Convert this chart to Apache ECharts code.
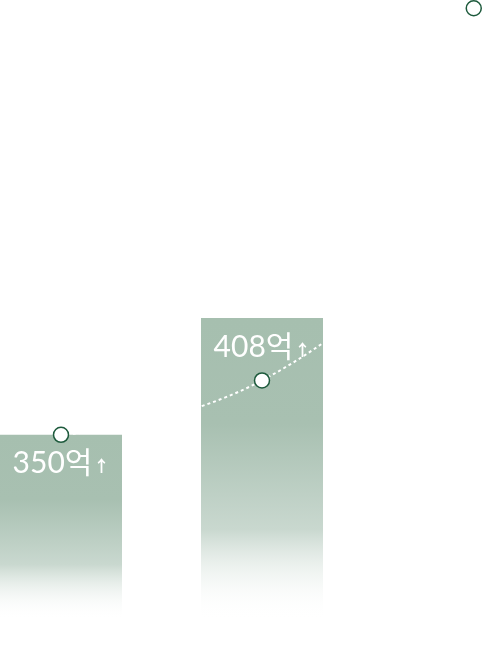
<!DOCTYPE html>
<html>
<head>
<meta charset="utf-8">
<script src="https://cdn.jsdelivr.net/npm/echarts@6/dist/echarts.min.js"></script>
<style>
  html, body { margin: 0; padding: 0; background: #fff; }
  #main { width: 494px; height: 650px; }
</style>
</head>
<body>
<div id="main"></div>
<script>
// 매출 막대 + 추이선
var categories = ['2021', '2022', '2023'];
var barValues = [350, 408, null];
var lineValues = [350, 377, 456];
var lineName = '추이';

var myChart = echarts.init(document.getElementById('main'));

var barColor = new echarts.graphic.LinearGradient(0, 0, 0, 1, [
    {offset: 0, color: '#a6bfaf'},
    {offset: 0.35, color: '#a8c0b1'},
    {offset: 0.7, color: '#c9d8cf'},
    {offset: 1, color: 'rgba(255,255,255,0)'}
]);

var option = {
    animation: false,
    backgroundColor: '#fff',
    legend: {
        data: [lineName],
        right: 12,
        top: 0,
        padding: 0,
        icon: 'circle',
        itemWidth: 15,
        itemHeight: 15,
        itemGap: 0,
        formatter: function () { return ''; },
        textStyle: {padding: 0},
        itemStyle: {color: '#fff', borderColor: '#1d5a3c', borderWidth: 1.5}
    },
    grid: {left: -39.5, right: -69.5, top: 0, bottom: 30, outerBoundsMode: 'none'},
    xAxis: {type: 'category', data: categories, show: false},
    yAxis: {
        type: 'value', min: 258, max: 566, startValue: 258, show: false
    },
    series: [
        {
            type: 'bar',
            data: barValues,
            barWidth: 122,
            itemStyle: {color: barColor},
            label: {
                show: true,
                position: 'insideTop',
                distance: 14,
                formatter: function (p) {
                    return '{v|' + p.value + '억}{a|↑}';
                },
                rich: {
                    v: {
                        color: '#fff', fontSize: 30,
                        fontFamily: 'Lato, "Noto Sans CJK KR"'
                    },
                    a: {
                        color: '#fff', fontSize: 16, fontWeight: 'bold',
                        fontFamily: '"Noto Sans CJK KR"', padding: [5, 0, 0, 1]
                    }
                }
            }
        },
        {
            name: lineName,
            type: 'line',
            data: lineValues.map(function (v, i) {
                return i === lineValues.length - 1 ? {value: v, symbol: 'none'} : v;
            }),
            smooth: true,
            symbol: 'circle',
            symbolSize: 15,
            z: 5,
            lineStyle: {color: '#fff', width: 2, type: [3, 3]},
            itemStyle: {color: '#fff', borderColor: '#1d5a3c', borderWidth: 1.5}
        }
    ]
};
myChart.setOption(option);
</script>
</body>
</html>
